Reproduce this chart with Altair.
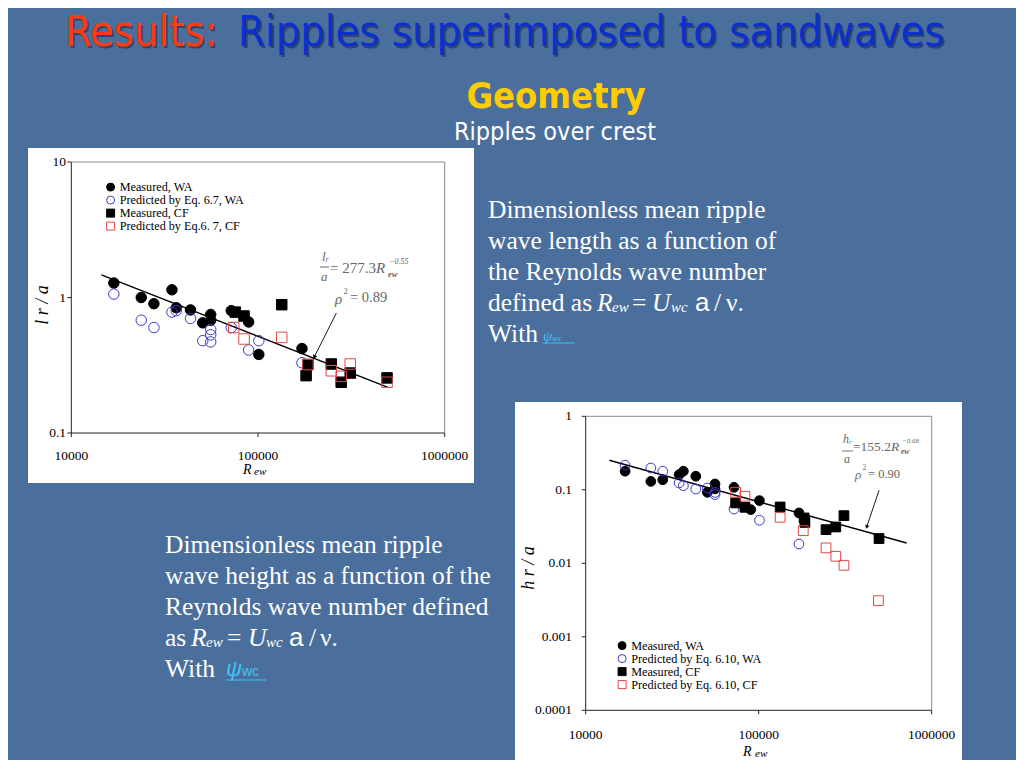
import altair as alt
import pandas as pd

# ---------------- data ----------------
series_top = ["Measured, WA", "Predicted by Eq. 6.7, WA", "Measured, CF", "Predicted by Eq.6. 7, CF"]
series_bot = ["Measured, WA", "Predicted by Eq. 6.10, WA", "Measured, CF", "Predicted by Eq. 6.10, CF"]

# upper chart: l_r / a versus R_ew
top_mwa_R = [16900, 23700, 27700, 34600, 36500, 43500, 50600, 55800, 55800, 71900, 89100, 101000, 172000]
top_mwa_v = [1.28, 1.00, 0.90, 1.14, 0.84, 0.81, 0.65, 0.75, 0.68, 0.80, 0.66, 0.38, 0.42]
top_pwa_R = [16900, 23700, 27700, 34600, 36500, 43500, 50600, 55800, 55800, 55800, 71900, 89100, 101000, 172000]
top_pwa_v = [1.06, 0.68, 0.60, 0.78, 0.80, 0.70, 0.48, 0.47, 0.53, 0.58, 0.60, 0.41, 0.48, 0.33]
top_mcf_R = [75600, 84200, 134000, 181000, 185000, 247000, 279000, 312000, 491000]
top_mcf_v = [0.78, 0.73, 0.885, 0.265, 0.32, 0.323, 0.237, 0.277, 0.255]
top_pcf_R = [74100, 84200, 134000, 185000, 247000, 279000, 312000, 491000]
top_pcf_v = [0.60, 0.494, 0.508, 0.32, 0.288, 0.262, 0.323, 0.237]
top_fit_R = [14500, 497000]
top_fit_v = [1.47, 0.217]
top_arrow_R = [263000, 200000]
top_arrow_v = [0.769, 0.363]

# lower chart: h_r / a versus R_ew
bot_mwa_R = [16900, 23800, 27900, 34700, 36700, 43300, 50500, 55900, 55900, 72000, 89900, 101000, 171000]
bot_mwa_v = [0.179, 0.130, 0.137, 0.161, 0.179, 0.153, 0.0925, 0.120, 0.103, 0.108, 0.0537, 0.0713, 0.0484]
bot_pwa_R = [16900, 23800, 27900, 34700, 36700, 43300, 50500, 55900, 55900, 72000, 101000, 171000]
bot_pwa_v = [0.216, 0.198, 0.179, 0.124, 0.114, 0.1026, 0.106, 0.086, 0.092, 0.0548, 0.0385, 0.0183]
bot_mcf_R = [73600, 83300, 133000, 183000, 185000, 245000, 279000, 311000, 496000]
bot_mcf_v = [0.0662, 0.0578, 0.0584, 0.0414, 0.036, 0.0287, 0.0312, 0.0445, 0.0217]
bot_pcf_R = [73600, 83300, 133000, 181000, 245000, 279000, 311000, 492000]
bot_pcf_v = [0.0925, 0.0816, 0.0423, 0.0278, 0.0162, 0.01245, 0.0094, 0.0031]
bot_fit_R = [13700, 716000]
bot_fit_v = [0.252, 0.0189]
bot_arrow_R = [496000, 421000]
bot_arrow_v = [0.0984, 0.0312]

x_ticks = [10000, 100000, 1000000]
x_tick_labels = ["10000", "100000", "1000000"]
top_y_ticks = [0.1, 1, 10]
top_y_labels = ["0.1", "1", "10"]
bot_y_ticks = [0.0001, 0.001, 0.01, 0.1, 1]
bot_y_labels = ["0.0001", "0.001", "0.01", "0.1", "1"]

# ---------------- styling ----------------
BG = "#4b6f9c"
SERIF = "Liberation Serif"
SANS = "Liberation Sans"
TITLE_FONT = "DejaVu Sans Condensed, Roboto, sans-serif"
GRAY = "#666666"
BLUE_M = "#3a3ac8"
RED_M = "#e04848"
LINK = "#3cc4f4"


def P(v):
    """screen pixel -> chart pixel (page has an 8px margin)"""
    return v - 8


def txt(s, x, y, size, color="white", font=SERIF, style="normal", weight="normal",
        align="left", baseline="middle", angle=0, opacity=1.0):
    return alt.Chart(alt.Data(values=[{"t": s}])).mark_text(
        font=font, fontSize=size, fontStyle=style, fontWeight=weight, color=color,
        align=align, baseline=baseline, angle=angle, opacity=opacity
    ).encode(text="t:N", x=alt.value(P(x)), y=alt.value(P(y)))


def hline(x1, x2, y, color, width=1.0):
    return alt.Chart(alt.Data(values=[{}])).mark_rule(color=color, strokeWidth=width).encode(
        x=alt.value(P(x1)), x2=alt.value(P(x2)), y=alt.value(P(y)))


def box(x1, x2, y1, y2, color):
    return alt.Chart(alt.Data(values=[{}])).mark_rect(color=color).encode(
        x=alt.value(P(x1)), x2=alt.value(P(x2)), y=alt.value(P(y1)), y2=alt.value(P(y2)))


def pts_frame(parts):
    return pd.concat([pd.DataFrame({"R": R, "v": v, "s": s}) for R, v, s in parts], ignore_index=True)


def panel(xs, ys, pts, series, legend, fit, arrow, arrow_angle, xt_y, yt_x,
          y_ticks, y_labels, frame_box, psize, head_size):
    x0, x1, y0, y1 = frame_box
    points = alt.Chart(pts).mark_point(size=psize, strokeWidth=1, opacity=1).encode(
        x=alt.X("R:Q", scale=xs, axis=None),
        y=alt.Y("v:Q", scale=ys, axis=None),
        shape=alt.Shape("s:N", scale=alt.Scale(domain=series, range=["circle", "circle", "square", "square"]), legend=legend),
        fill=alt.Fill("s:N", scale=alt.Scale(domain=series, range=["black", "transparent", "black", "transparent"]), legend=legend),
        stroke=alt.Stroke("s:N", scale=alt.Scale(domain=series, range=["black", BLUE_M, "black", RED_M]), legend=legend),
    )
    fit_line = alt.Chart(pd.DataFrame({"R": fit[0], "v": fit[1]})).mark_line(color="black", strokeWidth=1.4).encode(
        x=alt.X("R:Q", scale=xs, axis=None), y=alt.Y("v:Q", scale=ys, axis=None))
    arr = alt.Chart(pd.DataFrame({"R": arrow[0], "v": arrow[1]})).mark_line(color="black", strokeWidth=0.9).encode(
        x=alt.X("R:Q", scale=xs, axis=None), y=alt.Y("v:Q", scale=ys, axis=None))
    head = alt.Chart(pd.DataFrame({"R": [arrow[0][1]], "v": [arrow[1][1]]})).mark_point(
        shape="triangle-down", filled=True, color="black", size=head_size, angle=arrow_angle, opacity=1).encode(
        x=alt.X("R:Q", scale=xs, axis=None), y=alt.Y("v:Q", scale=ys, axis=None))
    fr = pd.DataFrame({
        "xa": [x0, x0, x0, x1], "xb": [x0, x1, x1, x1],
        "ya": [y0, y0, y1, y0], "yb": [y1, y0, y1, y1],
        "c": ["#222222", "#222222", "#8a8a8a", "#8a8a8a"],
    })
    frame = alt.Chart(fr).mark_rule(strokeWidth=1).encode(
        x=alt.X("xa:Q", scale=xs, axis=None), x2="xb:Q",
        y=alt.Y("ya:Q", scale=ys, axis=None), y2="yb:Q",
        color=alt.Color("c:N", scale=None))
    xt = pd.DataFrame({"v": x_ticks, "lab": x_tick_labels})
    yt = pd.DataFrame({"v": y_ticks, "lab": y_labels})
    ybase = ys.range[0]
    xbase = xs.range[0]
    xtick_marks = alt.Chart(xt).mark_rule(color="#222222").encode(
        x=alt.X("v:Q", scale=xs, axis=None), y=alt.value(ybase), y2=alt.value(ybase + 4))
    ytick_marks = alt.Chart(yt).mark_rule(color="#222222").encode(
        y=alt.Y("v:Q", scale=ys, axis=None), x=alt.value(xbase - 4), x2=alt.value(xbase))
    xlab = alt.Chart(xt).mark_text(font=SERIF, fontSize=13.5, color="black", baseline="middle").encode(
        x=alt.X("v:Q", scale=xs, axis=None), y=alt.value(P(xt_y)), text="lab:N")
    ylab = alt.Chart(yt).mark_text(font=SERIF, fontSize=13.5, color="black", align="right", baseline="middle").encode(
        y=alt.Y("v:Q", scale=ys, axis=None), x=alt.value(P(yt_x)), text="lab:N")
    return alt.layer(frame, xtick_marks, ytick_marks, xlab, ylab, fit_line, arr, head, points)


# ---------------- scales ----------------
xs_top = alt.Scale(type="log", domain=[1e4, 1e6], range=[P(71.3), P(444.7)], nice=False)
ys_top = alt.Scale(type="log", domain=[0.1, 10], range=[P(433), P(162)], nice=False)
xs_bot = alt.Scale(type="log", domain=[1e4, 1e6], range=[P(585.7), P(931.7)], nice=False)
ys_bot = alt.Scale(type="log", domain=[1e-4, 1], range=[P(710.3), P(416.3)], nice=False)

legend_top = alt.Legend(orient="none", legendX=P(104.5), legendY=P(181), title=None,
                        labelFont=SERIF, labelFontSize=12.2, labelColor="black", symbolSize=64,
                        symbolStrokeWidth=1, labelOffset=3, rowPadding=-1.4, padding=0, offset=0)
legend_bot = alt.Legend(orient="none", legendX=P(616), legendY=P(639.5), title=None,
                        labelFont=SERIF, labelFontSize=12.2, labelColor="black", symbolSize=64,
                        symbolStrokeWidth=1, labelOffset=3, rowPadding=-1.4, padding=0, offset=0)

top_pts = pts_frame([(top_mwa_R, top_mwa_v, series_top[0]), (top_pwa_R, top_pwa_v, series_top[1]),
                     (top_mcf_R, top_mcf_v, series_top[2]), (top_pcf_R, top_pcf_v, series_top[3])])
bot_pts = pts_frame([(bot_mwa_R, bot_mwa_v, series_bot[0]), (bot_pwa_R, bot_pwa_v, series_bot[1]),
                     (bot_mcf_R, bot_mcf_v, series_bot[2]), (bot_pcf_R, bot_pcf_v, series_bot[3])])

top_panel = panel(xs_top, ys_top, top_pts, series_top, legend_top, (top_fit_R, top_fit_v),
                  (top_arrow_R, top_arrow_v), 27, 456, 66, top_y_ticks, top_y_labels,
                  (1e4, 1e6, 0.1, 10), 110, 22)
bot_panel = panel(xs_bot, ys_bot, bot_pts, series_bot, legend_bot, (bot_fit_R, bot_fit_v),
                  (bot_arrow_R, bot_arrow_v), 18, 735, 572, bot_y_ticks, bot_y_labels,
                  (1e4, 1e6, 1e-4, 1), 95, 18)

# ---------------- slide decorations and text ----------------
white_boxes = alt.layer(box(28, 474, 148, 483, "white"), box(515, 962, 402, 768, "white"))

title = alt.layer(
    txt("Results:", 67, 35, 43, color="#1d2c48", font=TITLE_FONT, opacity=0.6),
    txt("Ripples superimposed to sandwaves", 240, 35, 43, color="#1d2c48", font=TITLE_FONT, opacity=0.6),
    txt("Results:", 65, 33, 43, color="#ff3a10", font=TITLE_FONT),
    txt("Ripples superimposed to sandwaves", 238, 33, 43, color="#0c2fd0", font=TITLE_FONT),
    txt("Geometry", 556, 97, 36, color="#ffcc00", font=TITLE_FONT, weight="bold", align="center"),
    txt("Ripples over crest", 555, 132, 25, color="white", font=TITLE_FONT, align="center"),
)

right_text = alt.layer(
    txt("Dimensionless mean ripple", 488, 210, 25.5),
    txt("wave length as a function of", 488, 241, 25.5),
    txt("the Reynolds wave number", 488, 272, 25.5),
    txt("defined as", 488, 303, 25.5),
    txt("R", 597, 303, 25.5, style="italic"),
    txt("ew", 612, 307, 15, style="italic"),
    txt("=", 632, 303, 25.5),
    txt("U", 652, 303, 25.5, style="italic"),
    txt("wc", 671, 307, 15, style="italic"),
    txt("a", 695, 303, 26, font=SANS),
    txt("/", 714, 303, 25.5),
    txt("ν.", 726, 303, 25.5),
    txt("With", 488, 334, 25.5),
    txt("ψ", 543, 336, 15, color=LINK, style="italic"),
    txt("wc", 552, 338, 9, color=LINK, style="italic"),
    hline(543, 575, 343, LINK, 1),
)

left_text = alt.layer(
    txt("Dimensionless mean ripple", 165, 545, 25.5),
    txt("wave height as a function of the", 165, 576, 25.5),
    txt("Reynolds wave number defined", 165, 607, 25.5),
    txt("as", 165, 638, 25.5),
    txt("R", 191, 638, 25.5, style="italic"),
    txt("ew", 206, 642, 15, style="italic"),
    txt("=", 227, 638, 25.5),
    txt("U", 248, 638, 25.5, style="italic"),
    txt("wc", 266, 642, 15, style="italic"),
    txt("a", 289, 638, 26, font=SANS),
    txt("/", 309, 638, 25.5),
    txt("ν.", 320, 638, 25.5),
    txt("With", 165, 669, 25.5),
    txt("ψ", 226, 669, 22, color=LINK, font=SANS, style="italic"),
    txt("wc", 242, 672, 14, color=LINK, font=SANS),
    hline(226, 266, 680, LINK, 1.2),
)

top_annot = alt.layer(
    txt("l r / a", 43, 305, 18, color="black", style="italic", align="center", angle=270),
    txt("R", 243, 470, 14, color="black", style="italic"),
    txt("ew", 254, 472, 11, color="black", style="italic"),
    txt("l", 322, 257, 13, color=GRAY, style="italic"),
    txt("r", 325.5, 260, 8, color=GRAY, style="italic"),
    hline(320, 329, 267, GRAY, 1),
    txt("a", 321, 277, 13, color=GRAY, style="italic"),
    txt("= 277.3", 330, 268, 15, color=GRAY),
    txt("R", 376, 268, 15, color=GRAY, style="italic"),
    txt("−0.55", 389, 262, 8, color=GRAY, style="italic"),
    txt("ew", 388, 274, 8.5, color=GRAY, style="italic", weight="bold"),
    txt("ρ", 335, 299, 15, color=GRAY, style="italic"),
    txt("2", 343.5, 291, 8.5, color=GRAY),
    txt("= 0.89", 350, 298, 14.5, color=GRAY),
)

bot_annot = alt.layer(
    txt("h r / a", 529, 568, 18, color="black", style="italic", align="center", angle=270),
    txt("R", 743, 752, 14, color="black", style="italic"),
    txt("ew", 755, 754, 11, color="black", style="italic"),
    txt("h", 843, 439, 12, color=GRAY, style="italic"),
    txt("r", 849, 442, 7, color=GRAY, style="italic"),
    hline(842, 853, 451, GRAY, 0.9),
    txt("a", 844, 459, 12, color=GRAY, style="italic"),
    txt("=155.2", 853, 447, 13.5, color=GRAY),
    txt("R", 891, 447, 13.5, color=GRAY, style="italic"),
    txt("−0.68", 902, 441, 7, color=GRAY, style="italic"),
    txt("ew", 901, 452, 7.5, color=GRAY, style="italic", weight="bold"),
    txt("ρ", 855, 475, 13, color=GRAY, style="italic"),
    txt("2", 862.5, 468, 7.5, color=GRAY),
    txt("= 0.90", 868, 474, 12.5, color=GRAY),
)

plots = alt.layer(top_panel, bot_panel).resolve_scale(
    x="independent", y="independent", shape="independent", fill="independent", stroke="independent"
).resolve_legend(shape="independent", fill="independent", stroke="independent")

chart = alt.layer(
    white_boxes, plots, top_annot, bot_annot, title, right_text, left_text
).resolve_scale(
    x="independent", y="independent"
).properties(
    width=1008, height=752, autosize=alt.AutoSizeParams(type="none"), padding=0
).configure(background=BG).configure_view(stroke=None)

chart.save("out.html", embed_options={"renderer": "svg", "actions": False})
